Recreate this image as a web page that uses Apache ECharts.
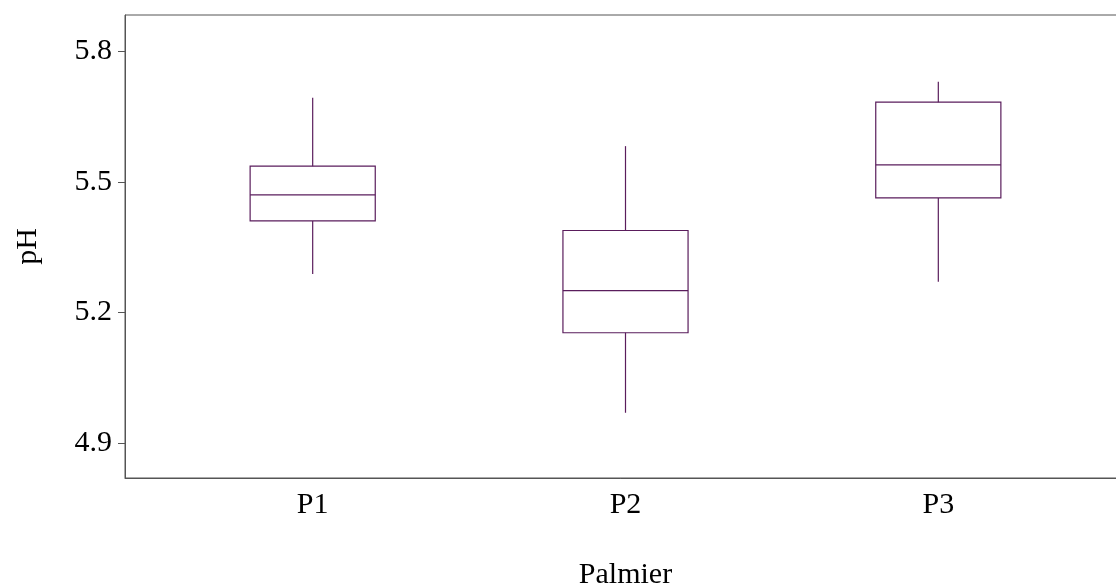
<!DOCTYPE html>
<html>
<head>
<meta charset="utf-8">
<script src="https://cdn.jsdelivr.net/npm/echarts@6/dist/echarts.min.js"></script>
<style>html,body{margin:0;padding:0;background:#fff;}#c{width:1116px;height:586px;}</style>
</head>
<body>
<div id="c"></div>
<script>
const categories = ['P1', 'P2', 'P3'];
const whiskerLow = [5.288, 4.969, 5.270];
const q1 = [5.410, 5.153, 5.463];
const median = [5.470, 5.250, 5.539];
const q3 = [5.536, 5.388, 5.683];
const whiskerHigh = [5.693, 5.582, 5.730];
const yTicks = [4.9, 5.2, 5.5, 5.8];

const boxData = categories.map((c, i) => [i + 1, whiskerLow[i], q1[i], median[i], q3[i], whiskerHigh[i]]);
const COLOR = '#5a1d5c';
const FONT = '"Liberation Serif", "Times New Roman", serif';

const chart = echarts.init(document.getElementById('c'));
chart.setOption({
  animation: false,
  backgroundColor: '#fff',
  grid: { left: 125, top: 15, width: 1001, height: 463, outerBoundsMode: 'none', containLabel: false, show: true, borderColor: '#555', borderWidth: 1, backgroundColor: 'transparent' },
  xAxis: {
    type: 'value', min: 0.4, max: 3.6,
    name: 'Palmier', nameLocation: 'middle', nameGap: 82,
    nameTextStyle: { fontFamily: FONT, fontSize: 30, color: '#000' },
    axisLine: { show: true, lineStyle: { color: '#555', width: 1 } },
    axisTick: { show: false },
    splitLine: { show: false },
    axisLabel: { customValues: [1, 2, 3], formatter: v => categories[Math.round(v) - 1] || '', fontFamily: FONT, fontSize: 30, color: '#000', margin: 12 }
  },
  yAxis: {
    type: 'value', min: 4.819, max: 5.8835,
    name: 'pH', nameLocation: 'middle', nameGap: 82, nameRotate: 90,
    nameTextStyle: { fontFamily: FONT, fontSize: 30, color: '#000' },
    axisLine: { show: true, lineStyle: { color: '#555', width: 1 } },
    axisTick: { show: true, length: 7, customValues: yTicks, lineStyle: { color: '#555' } },
    splitLine: { show: false },
    axisLabel: { customValues: yTicks, formatter: v => v.toFixed(1), fontFamily: FONT, fontSize: 30, color: '#000', margin: 13 }
  },
  series: [{
    type: 'custom',
    data: boxData,
    encode: { x: 0, y: [1, 2, 3, 4, 5] },
    renderItem: function (params, api) {
      const x = api.value(0);
      const half = api.size([0.2, 0])[0];
      const pLow = api.coord([x, api.value(1)]);
      const pQ1 = api.coord([x, api.value(2)]);
      const pMed = api.coord([x, api.value(3)]);
      const pQ3 = api.coord([x, api.value(4)]);
      const pHigh = api.coord([x, api.value(5)]);
      const st = { stroke: COLOR, lineWidth: 1.2, fill: null };
      return {
        type: 'group',
        children: [
          { type: 'line', shape: { x1: pHigh[0], y1: pHigh[1], x2: pQ3[0], y2: pQ3[1] }, style: st },
          { type: 'line', shape: { x1: pQ1[0], y1: pQ1[1], x2: pLow[0], y2: pLow[1] }, style: st },
          { type: 'rect', shape: { x: pQ3[0] - half, y: pQ3[1], width: 2 * half, height: pQ1[1] - pQ3[1] }, style: st },
          { type: 'line', shape: { x1: pMed[0] - half, y1: pMed[1], x2: pMed[0] + half, y2: pMed[1] }, style: st }
        ]
      };
    }
  }]
});
</script>
</body>
</html>
